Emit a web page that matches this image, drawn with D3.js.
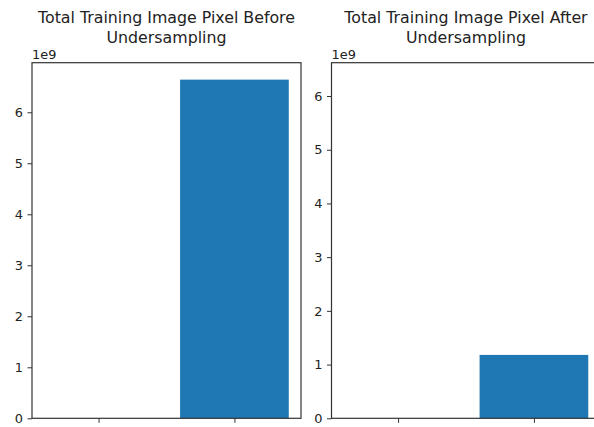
<!DOCTYPE html>
<html>
<head>
<meta charset="utf-8">
<script src="https://cdn.jsdelivr.net/npm/d3@7"></script>
<style>
  html, body { margin: 0; padding: 0; background: #fff; }
  svg { display: block; overflow: hidden; }
  text { font-family: "DejaVu Sans", sans-serif; fill: #222; }
</style>
</head>
<body>
<svg id="chart" width="594" height="427"></svg>
<script>
// Bar positions (x = 0, 1) and totals per panel
const positions = [0, 1];
const beforeValues = [0, 6.64e9];
const afterValues = [0, 1.18e9];
const yTickValues = [0, 1, 2, 3, 4, 5, 6];
const offsetLabel = "1e9";
const titles = [
  ["Total Training Image Pixel Before", "Undersampling"],
  ["Total Training Image Pixel After", "Undersampling"]
];
// y-limit of the second panel is fixed explicitly
const afterYMax = 6.62e9;

const svg = d3.select("#chart");
const plotTop = 62.7, plotBottom = 418.3;
const barWidth = 0.8;

function panel(x0, x1, values, yMax, titleLines) {
  const g = svg.append("g");
  const x = d3.scaleLinear().domain([-0.49, 1.49]).range([x0, x1]);
  const y = d3.scaleLinear().domain([0, yMax]).range([plotBottom, plotTop]);

  g.selectAll("rect.bar").data(values).join("rect")
    .attr("class", "bar")
    .attr("x", (d, i) => x(positions[i] - barWidth / 2))
    .attr("width", (d, i) => x(positions[i] + barWidth / 2) - x(positions[i] - barWidth / 2))
    .attr("y", d => y(d))
    .attr("height", d => y(0) - y(d))
    .attr("fill", "#1f77b4");

  const yAxis = d3.axisLeft(y)
    .tickValues(yTickValues.map(v => v * 1e9))
    .tickFormat(d => String(Math.round(d / 1e9)))
    .tickSize(4.5).tickPadding(4.5);
  const ya = g.append("g").attr("transform", `translate(${x0},0)`).call(yAxis);
  ya.select(".domain").remove();
  ya.selectAll("line").attr("stroke", "#333").attr("stroke-width", 1);
  ya.selectAll("text").attr("font-size", 12.9).attr("fill", "#222")
    .attr("font-family", "DejaVu Sans, sans-serif");

  const xAxis = d3.axisBottom(x).tickValues(positions).tickFormat(() => "")
    .tickSize(4.5);
  const xa = g.append("g").attr("transform", `translate(0,${plotBottom})`).call(xAxis);
  xa.select(".domain").remove();
  xa.selectAll("line").attr("stroke", "#333").attr("stroke-width", 1);

  // axes frame
  g.append("rect")
    .attr("x", x0).attr("y", plotTop)
    .attr("width", x1 - x0).attr("height", plotBottom - plotTop)
    .attr("fill", "none").attr("stroke", "#333").attr("stroke-width", 1.2);

  g.append("text").attr("x", x0).attr("y", 58.5)
    .attr("font-size", 12.9).text(offsetLabel);

  const cx = (x0 + x1) / 2;
  g.selectAll("text.title").data(titleLines).join("text")
    .attr("class", "title")
    .attr("x", cx).attr("y", (d, i) => 23 + i * 20)
    .attr("text-anchor", "middle").attr("font-size", 15.8)
    .text(d => d);
}

panel(32, 301, beforeValues, d3.max(beforeValues) * 1.05, titles[0]);
panel(331.5, 600.5, afterValues, afterYMax, titles[1]);
</script>
</body>
</html>
